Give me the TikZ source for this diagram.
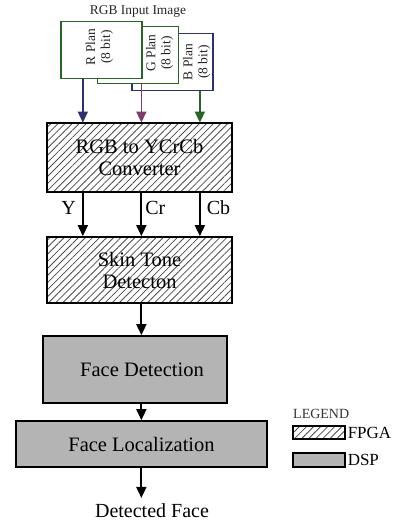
\documentclass[tikz,border=0pt]{standalone}
\usepackage{fontspec}
\setmainfont{Liberation Serif}
\usetikzlibrary{calc, arrows.meta, patterns.meta}

\definecolor{plangreen}{RGB}{40,100,40}
\definecolor{plannavy}{RGB}{45,50,110}
\definecolor{planpurple}{RGB}{125,60,105}
\definecolor{dspgray}{RGB}{180,180,180}

\begin{document}
\begin{tikzpicture}[x=1pt, y=-1pt, >={Triangle[length=11pt, width=10pt]},
  blk/.style={draw, line width=1.7pt, inner sep=0pt, align=center, font=\fontsize{20.5}{22}\selectfont},
  hatch/.style={pattern={Lines[angle=45, distance=5pt, line width=0.8pt]}, pattern color=black!70},
  fpga/.style={blk, hatch, minimum width=185, minimum height=#1},
  dsp/.style={blk, fill=dspgray},
  plan/.style={draw=#1, fill=white, line width=1.5pt, minimum width=81, minimum height=57},
  plantxt/.style={rotate=90, align=center, text=black!85, font=\fontsize{13.5}{15}\selectfont},
  flow/.style={->, line width=1.8pt},
  lbl/.style={font=\fontsize{20}{22}\selectfont, inner sep=1pt}]
  \fill[white] (0,0) rectangle (393,521);
  % input planes, back to front
  \node[plan=plannavy] (b) at (172.5,62) {};
  \node[plan=plangreen] (g) at (138,55) {};
  \node[plan=plangreen] (r) at (101.5,50) {};
  \node[plantxt] (bt) at (196.5,62) {B Plan\\(8 bit)};
  \node[plantxt] (gt) at (159.5,53) {G Plan\\(8 bit)};
  \node[plantxt] (rt) at (99.5,47) {R Plan\\(8 bit)};
  \node[text=black!85, font=\fontsize{13.4}{15}\selectfont] (img) at (138,12) {RGB Input Image};

  \node[fpga=69] (conv) at (139.5,157.5) {RGB to YCrCb\\Converter};
  \node[fpga=66] (skin) at (139.5,270) {Skin Tone\\Detecton};
  \node[dsp, minimum width=184, minimum height=67] (fd) at (135,369.5) {\hspace*{14pt}Face Detection};
  \node[dsp, minimum width=251, minimum height=46] (fl) at (141.5,444) {Face Localization};
  \node[lbl, anchor=base] (out) at (152,517) {Detected Face};

  \foreach \n/\f in {1/.195, 2/.51, 3/.825} {
    \coordinate (in\n) at ($(conv.north west)!\f!(conv.north east)$);
    \coordinate (out\n) at ($(conv.south west)!\f!(conv.south east)$);
  }

  % plane arrows
  \draw[->, plannavy, line width=1.5pt] (r.south -| in1) -- (in1);
  \draw[->, planpurple, line width=1.5pt] (g.south -| in2) -- (in2);
  \draw[->, plangreen, line width=1.5pt] (b.south -| in3) -- (in3);

  \draw[flow] (out1) -- (out1 |- skin.north) node[lbl, pos=.35, left=5pt] {Y};
  \draw[flow] (out2) -- (out2 |- skin.north) node[lbl, pos=.35, right=2pt] {Cr};
  \draw[flow] (out3) -- (out3 |- skin.north) node[lbl, pos=.35, right=5pt] {Cb};
  \draw[flow] (skin.south -| out2) -- (fd.north -| out2);
  \draw[flow] (fd.south -| out2) -- (fl.north -| out2);
  \draw[flow] (fl.south -| out2) -- ($(out.north -| out2)+(0,-4)$);

  % legend
  \node[text=black!80, font=\fontsize{14}{16}\selectfont, anchor=west, inner sep=0pt] (leg) at (293,414) {LEGEND};
  \node[draw, line width=1.1pt, hatch, minimum width=52, minimum height=13, inner sep=0pt] (lf) at (319,432.5) {};
  \node[draw, line width=1.1pt, fill=dspgray, minimum width=52, minimum height=14, inner sep=0pt] (ld) at (319,460) {};
  \node[anchor=west, inner sep=2pt, font=\fontsize{17}{19}\selectfont] (lft) at (lf.east) {FPGA};
  \node[anchor=west, inner sep=2pt, font=\fontsize{17}{19}\selectfont] (ldt) at (ld.east) {DSP};
\end{tikzpicture}
\end{document}
